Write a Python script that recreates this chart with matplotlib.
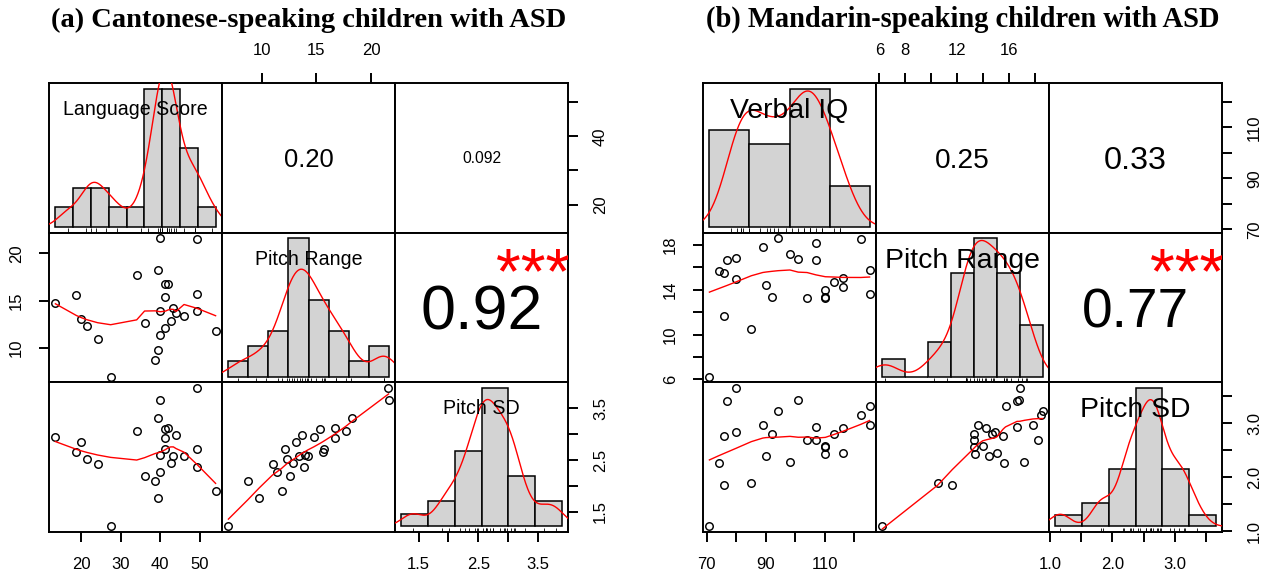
import numpy as np
import matplotlib
matplotlib.use("Agg")
import matplotlib.pyplot as plt
from matplotlib.transforms import offset_copy

plt.rcParams['font.family'] = ['Liberation Sans', 'DejaVu Sans']

# ---------------- data: (a) Cantonese-speaking children with ASD ----------------
a_title = "(a) Cantonese-speaking children with ASD"
a_names = ["Language Score", "Pitch Range", "Pitch SD"]
a_language_score = [13.4, 18.7, 20.0, 21.4, 24.1, 27.4, 34.0, 36.0, 38.7, 39.3, 39.3, 40.0, 40.0,
                    40.0, 41.3, 41.9, 41.3, 41.3, 42.6, 43.3, 44.0, 46.0, 49.3, 49.3, 49.3, 54.0]
a_pitch_range = [14.77, 15.58, 13.12, 12.35, 11.0, 6.98, 17.72, 12.6, 8.74, 9.79, 18.28, 21.58, 11.4,
                 13.93, 16.73, 16.73, 15.37, 12.1, 12.87, 14.21, 13.68, 13.37, 21.5, 15.65, 13.86, 11.82]
a_pitch_sd = [2.94, 2.65, 2.85, 2.52, 2.42, 1.21, 3.06, 2.19, 2.09, 1.76, 3.31, 3.67, 2.26,
              2.60, 2.93, 3.12, 3.11, 2.71, 2.44, 2.58, 2.98, 2.58, 3.90, 2.71, 2.37, 1.90]
a_breaks = [[10, 15, 20, 25, 30, 35, 40, 45, 50, 55],
            [6, 8, 10, 12, 14, 16, 18, 20, 22],
            [1.0, 1.5, 2.0, 2.5, 3.0, 3.5, 4.0]]
a_corr_labels = ["0.20", "0.092", "0.92"]      # (1,2), (1,3), (2,3)
a_signif = ["", "", "***"]
a_ticks = [[20, 30, 40, 50], [10, 15, 20], [1.5, 2.0, 2.5, 3.0, 3.5]]
a_xtick_labels = [["20", "30", "40", "50"], ["10", "15", "20"], ["1.5", "", "2.5", "", "3.5"]]
a_ytick_labels = [["20", "", "40", ""], ["10", "15", "20"], ["1.5", "", "2.5", "", "3.5"]]

# ---------------- data: (b) Mandarin-speaking children with ASD ----------------
b_title = "(b) Mandarin-speaking children with ASD"
b_names = ["Verbal IQ", "Pitch Range", "Pitch SD"]
b_verbal_iq = [70.9, 74.0, 76.0, 76.0, 77.0, 80.0, 80.0, 85.1, 89.0, 90.1, 92.1, 94.2, 98.2,
               101.0, 104.0, 107.0, 107.0, 110.2, 110.2, 110.2, 113.2, 116.2, 116.2, 122.2, 125.2, 125.2]
b_pitch_range = [6.23, 15.65, 15.53, 11.63, 16.63, 16.87, 14.96, 10.50, 17.85, 14.43, 13.33, 18.60, 17.20,
                 16.78, 13.27, 18.21, 16.66, 13.97, 13.30, 13.36, 14.67, 15.08, 14.25, 18.51, 15.74, 13.62]
b_pitch_sd = [1.09, 2.26, 2.77, 1.85, 3.40, 3.65, 2.83, 1.89, 2.97, 2.39, 2.79, 3.22, 2.28,
              3.42, 2.69, 2.69, 2.92, 2.58, 2.55, 2.42, 2.79, 2.45, 2.90, 3.15, 3.32, 2.96]
b_breaks = [[60, 80, 100, 120, 140],
            [6, 8, 10, 12, 14, 16, 18, 20],
            [1.0, 1.5, 2.0, 2.5, 3.0, 3.5, 4.0]]
b_corr_labels = ["0.25", "0.33", "0.77"]
b_signif = ["", "", "***"]
b_ticks = [[70, 80, 90, 100, 110, 120], [6, 8, 10, 12, 14, 16, 18], [1.0, 1.5, 2.0, 2.5, 3.0, 3.5]]
b_xtick_labels = [["70", "", "90", "", "110", ""], ["6", "8", "", "12", "", "16", ""],
                  ["1.0", "", "2.0", "", "3.0", ""]]
b_ytick_labels = [["70", "", "90", "", "110", ""], ["6", "", "10", "", "14", "", "18"],
                  ["1.0", "", "2.0", "", "3.0", ""]]

# ---------------- styles ----------------
W, H = 1270, 577
LW = 1.4
TICK_LEN = 7.5
TICK_PAD = 10.5
TICK_FS = 12
HIST_COLOR = "#D3D3D3"


def r_lowess(x, y, f=2 / 3, nsteps=3):
    x = np.asarray(x, float)
    y = np.asarray(y, float)
    o = np.argsort(x, kind="mergesort")
    x = x[o]
    y = y[o]
    n = len(x)
    rng = x[-1] - x[0]
    delta = 0.01 * rng
    ns = max(2, min(n, int(f * n + 1e-7)))
    ys = np.zeros(n)
    state = {"rw": np.ones(n)}

    def lowest(xs, nleft, nright, userw):
        rw = state["rw"]
        h = max(xs - x[nleft], x[nright] - xs)
        h9, h1 = 0.999 * h, 0.001 * h
        w = np.zeros(n)
        a = 0.0
        j = nleft
        while j < n:
            r = abs(x[j] - xs)
            if r <= h9:
                w[j] = 1.0 if r <= h1 else (1 - (r / h) ** 3) ** 3
                if userw:
                    w[j] *= rw[j]
                a += w[j]
            elif x[j] > xs:
                break
            j += 1
        nrt = j - 1
        if a <= 0:
            return None
        sl = slice(nleft, nrt + 1)
        w[sl] /= a
        if h > 0:
            a = np.sum(w[sl] * x[sl])
            b = xs - a
            c = np.sum(w[sl] * (x[sl] - a) ** 2)
            if np.sqrt(c) > 0.001 * rng:
                b /= c
                w[sl] *= (b * (x[sl] - a) + 1.0)
        return np.sum(w[sl] * y[sl])

    it = 1
    while it <= nsteps + 1:
        nleft, nright, last, i = 0, ns - 1, -1, 0
        while True:
            if nright < n - 1:
                if x[i] - x[nleft] > x[nright + 1] - x[i]:
                    nleft += 1
                    nright += 1
                    continue
            v = lowest(x[i], nleft, nright, it > 1)
            ys[i] = y[i] if v is None else v
            if last < i - 1:
                denom = x[i] - x[last]
                for j in range(last + 1, i):
                    al = (x[j] - x[last]) / denom
                    ys[j] = al * ys[i] + (1 - al) * ys[last]
            last = i
            cut = x[last] + delta
            i = last + 1
            while i < n:
                if x[i] > cut:
                    break
                if x[i] == x[last]:
                    ys[i] = ys[last]
                    last = i
                i += 1
            i = max(last + 1, i - 1)
            if last >= n - 1:
                break
        res = y - ys
        sc = np.mean(np.abs(res))
        if it > nsteps:
            break
        cmad = 6 * np.median(np.abs(res))
        if cmad < 1e-7 * sc:
            break
        r = np.abs(res)
        state["rw"] = np.where(r <= 0.001 * cmad, 1.0,
                               np.where(r <= 0.999 * cmad, (1 - (r / cmad) ** 2) ** 2, 0.0))
        it += 1
    return x, ys


def r_density(x, n=512):
    x = np.asarray(x, float)
    sd = np.std(x, ddof=1)
    q75, q25 = np.percentile(x, [75, 25])
    lo = min(sd, (q75 - q25) / 1.34)
    bw = 0.9 * lo * len(x) ** -0.2
    grid = np.linspace(x.min() - 3 * bw, x.max() + 3 * bw, n)
    dens = np.exp(-0.5 * ((grid[:, None] - x[None, :]) / bw) ** 2).sum(1) / (len(x) * bw * np.sqrt(2 * np.pi))
    return grid, dens


def r_hist(x, breaks):
    x = np.asarray(x, float)
    b = np.asarray(breaks, float)
    idx = np.clip(np.searchsorted(b, x, side="left") - 1, 0, len(b) - 2)
    counts = np.bincount(idx, minlength=len(b) - 1)
    return b, counts / (len(x) * np.diff(b))


fig = plt.figure(figsize=(W / 100, H / 100), dpi=100)
renderer = fig.canvas.get_renderer()


def text_width(s, fs, **kw):
    t = fig.text(0, 0, s, fontsize=fs, **kw)
    w = t.get_window_extent(renderer).width
    t.remove()
    return w


def set_axis(ax, side, ticks, labels):
    kw = dict(length=TICK_LEN, width=LW, pad=TICK_PAD, labelsize=TICK_FS, direction="out")
    if side in ("bottom", "top"):
        ax.set_xticks(ticks, labels)
        if side == "bottom":
            ax.tick_params(axis="x", bottom=True, labelbottom=True, **kw)
        else:
            ax.tick_params(axis="x", top=True, labeltop=True, **kw)
    else:
        ax.set_yticks(ticks, labels)
        if side == "left":
            ax.tick_params(axis="y", left=True, labelleft=True, labelrotation=90, **kw)
        else:
            ax.tick_params(axis="y", right=True, labelright=True, labelrotation=90, **kw)
        for t in ax.yaxis.get_major_ticks():
            t.label1.set_va("center")
            t.label2.set_va("center")


def draw_matrix(box, title, names, data, breaks, ticks, xlabs, ylabs, corr_labels, signif, label_fs):
    left, right, top, bottom = box
    cw = (right - left) / 3
    ch = (bottom - top) / 3
    lims = []
    for v in data:
        v = np.asarray(v, float)
        r = v.max() - v.min()
        lims.append((v.min() - 0.04 * r, v.max() + 0.04 * r))
    k = 0
    for i in range(3):
        for j in range(3):
            rect = [(left + j * cw) / W, 1 - (top + (i + 1) * ch) / H, cw / W, ch / H]
            ax = fig.add_axes(rect)
            ax.set_xlim(lims[j])
            ax.set_ylim(lims[i])
            for s in ax.spines.values():
                s.set_linewidth(LW)
            ax.set_xticks([])
            ax.set_yticks([])
            ax.tick_params(bottom=False, top=False, left=False, right=False,
                           labelbottom=False, labeltop=False, labelleft=False, labelright=False)
            if i == 2 and j % 2 == 0:
                set_axis(ax, "bottom", ticks[j], xlabs[j])
            if i == 0 and j % 2 == 1:
                set_axis(ax, "top", ticks[j], xlabs[j])
            if j == 0 and i % 2 == 1:
                set_axis(ax, "left", ticks[i], ylabs[i])
            if j == 2 and i % 2 == 0:
                set_axis(ax, "right", ticks[i], ylabs[i])

            if i > j:
                ax.plot(data[j], data[i], "o", mfc="none", mec="black", ms=5.4, mew=1.05)
                sx, sy = r_lowess(data[j], data[i])
                ax.plot(sx, sy, color="red", lw=1.0)
            elif i < j:
                txt = corr_labels[k]
                st = signif[k]
                k += 1
                rval = abs(float(txt))
                base = 10 * (0.8 * cw * 0.94) / text_width(txt, 10)
                fs = base * (rval + 0.3) / 1.3
                ax.text(0.5, 0.5, txt, fontsize=fs, ha="center", va="baseline",
                        transform=offset_copy(ax.transAxes, fig=fig, y=-0.358 * fs, units="points"))
                if st:
                    ax.text(0.8, 0.8, st, fontsize=base * 0.95, color="red", ha="center", va="baseline",
                            clip_on=True,
                            transform=offset_copy(ax.transAxes, fig=fig, y=-0.45 * base, units="points"))
            else:
                axh = fig.add_axes(rect)
                axh.set_axis_off()
                b, dens = r_hist(data[i], breaks[i])
                span = b[-1] - b[0]
                m = dens.max()
                axh.set_xlim(b[0] - 0.04 * span, b[-1] + 0.04 * span)
                ylo, yhi = -0.04 * m, 1.04 * m
                axh.set_ylim(ylo, yhi)
                axh.bar(b[:-1], dens, width=np.diff(b), align="edge", color=HIST_COLOR,
                        edgecolor="black", lw=1.1)
                g, d = r_density(data[i])
                axh.plot(g, d, color="red", lw=1.0)
                axh.vlines(data[i], ylo, ylo + 0.03 * (yhi - ylo), color="black", lw=0.6)
                axh.text(0.5, 0.8333, names[i], fontsize=label_fs, ha="center", va="baseline", zorder=10,
                         transform=offset_copy(axh.transAxes, fig=fig, y=-0.358 * label_fs, units="points"))
    # title
    target = right - left - 4
    fam = dict(family="Liberation Serif", fontweight="bold")
    fs = 20 * target / text_width(title, 20, **fam)
    fig.text((left + right) / 2 / W, 1 - 27 / H, title, fontsize=fs, ha="center", va="baseline", **fam)


draw_matrix((49, 568, 83, 532), a_title, a_names,
            [a_language_score, a_pitch_range, a_pitch_sd], a_breaks, a_ticks,
            a_xtick_labels, a_ytick_labels, a_corr_labels, a_signif, 14.1)
draw_matrix((703, 1222, 83, 532), b_title, b_names,
            [b_verbal_iq, b_pitch_range, b_pitch_sd], b_breaks, b_ticks,
            b_xtick_labels, b_ytick_labels, b_corr_labels, b_signif, 20.4)

fig.savefig("out.png", dpi=100)
